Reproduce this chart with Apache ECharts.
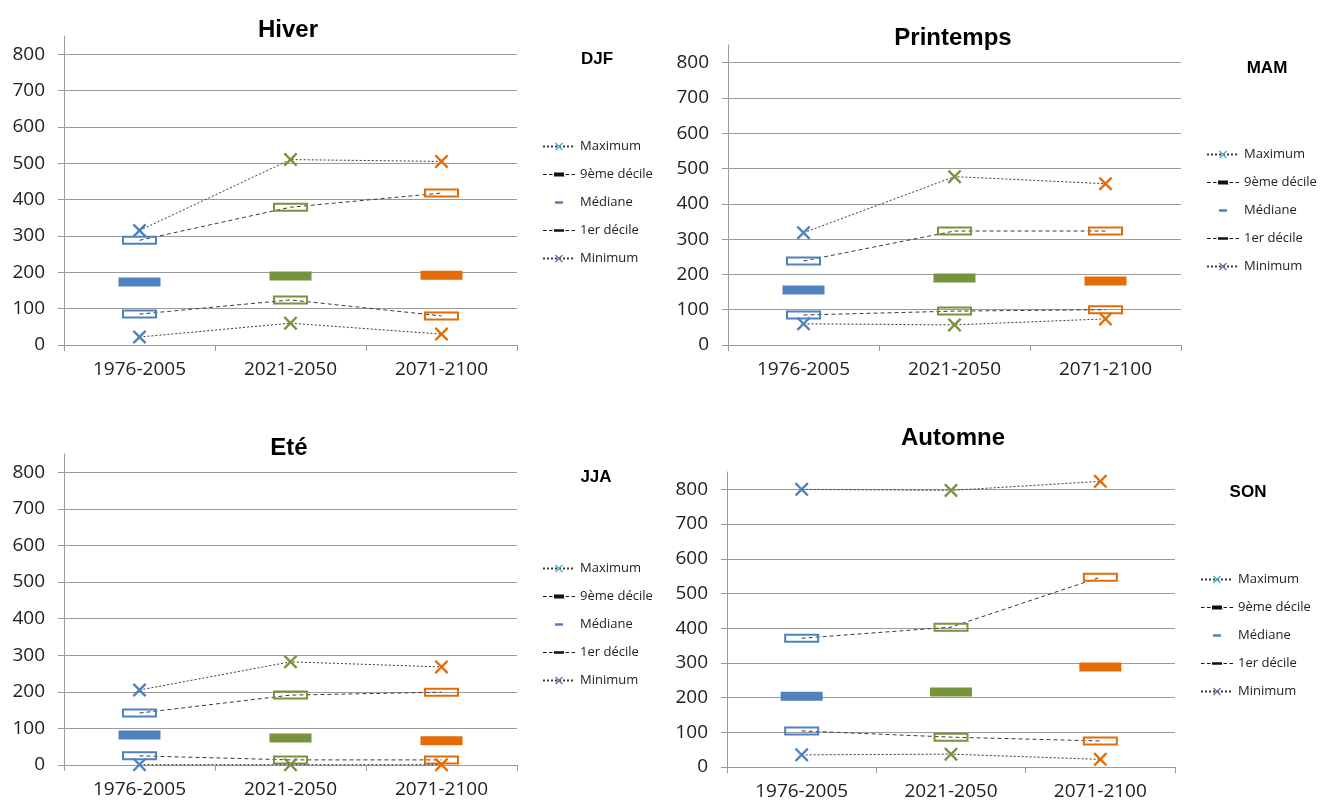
<!DOCTYPE html>
<html>
<head>
<meta charset="utf-8">
<title>Saisons</title>
<script src="https://cdn.jsdelivr.net/npm/echarts@6/dist/echarts.min.js"></script>
<style>
  html, body { margin: 0; padding: 0; background: #fff; }
  #container { width: 1321px; height: 803px; }
</style>
</head>
<body>
<div id="container"></div>
<script>
var dom = document.getElementById("container");
var myChart = echarts.init(dom);

// périodes
var categories = ['1976-2005', '2021-2050', '2071-2100'];
var yTicks = [0, 100, 200, 300, 400, 500, 600, 700, 800];

// Hiver (DJF)
var hiverMax = [315, 510, 505];
var hiverD9 = [288, 379, 418];
var hiverMed = [173, 190, 192];
var hiverD1 = [85, 124, 80];
var hiverMin = [22, 60, 30];

// Printemps (MAM)
var printempsMax = [318, 477, 457];
var printempsD9 = [238, 323, 323];
var printempsMed = [156, 190, 181];
var printempsD1 = [85, 96, 100];
var printempsMin = [60, 57, 74];

// Eté (JJA)
var eteMax = [205, 282, 268];
var eteD9 = [142, 191, 199];
var eteMed = [82, 74, 66];
var eteD1 = [25, 14, 14];
var eteMin = [1, 1, 1];

// Automne (SON)
var automneMax = [800, 797, 823];
var automneD9 = [371, 403, 547];
var automneMed = [204, 216, 288];
var automneD1 = [104, 86, 75];
var automneMin = [35, 37, 22];

var periodColors = ['#4F81BD', '#77933C', '#E36C09'];
var lineColor = '#3a3a3a';
var gridColor = '#9a9a9a';
var font = 'Open Sans';

var crossPath = 'path://M0,1.2L1.2,0L5,3.8L8.8,0L10,1.2L6.2,5L10,8.8L8.8,10L5,6.2L1.2,10L0,8.8L3.8,5Z';
// rectangle creux (trou par sens inverse)
var boxPath = 'path://M0,0h35v9h-35zM2,2v5h31v-5z';
var d9Icon = 'path://M0,0L32,10L0,0ZM0,4.4h3.5v1.2h-3.5zM6,4.4h3.5v1.2h-3.5zM11,3h10v4h-10zM22.5,4.4h3.5v1.2h-3.5zM28.5,4.4h3.5v1.2h-3.5z';
var d1Icon = 'path://M0,0L32,10L0,0ZM0,4.4h3.5v1.2h-3.5zM6,4.4h3.5v1.2h-3.5zM11,3.8h10v2.4h-10zM22.5,4.4h3.5v1.2h-3.5zM28.5,4.4h3.5v1.2h-3.5z';
var medIcon = 'path://M0,0L32,10L0,0ZM12,3.8h8v2.4h-8z';

var panels = [
    { title: 'Hiver', code: 'DJF', max: hiverMax, d9: hiverD9, med: hiverMed, d1: hiverD1, min: hiverMin,
      grid: { left: 64, top: 36, width: 453, height: 309 },
      titlePos: [288, 30], codePos: [597, 59], legendPos: [537, 135] },
    { title: 'Printemps', code: 'MAM', max: printempsMax, d9: printempsD9, med: printempsMed, d1: printempsD1, min: printempsMin,
      grid: { left: 728, top: 45, width: 453, height: 300 },
      titlePos: [953, 38], codePos: [1267, 68], legendPos: [1201, 143] },
    { title: 'Eté', code: 'JJA', max: eteMax, d9: eteD9, med: eteMed, d1: eteD1, min: eteMin,
      grid: { left: 64, top: 454, width: 453, height: 311 },
      titlePos: [289, 448], codePos: [596, 477], legendPos: [537, 557] },
    { title: 'Automne', code: 'SON', max: automneMax, d9: automneD9, med: automneMed, d1: automneD1, min: automneMin,
      grid: { left: 727, top: 472, width: 448, height: 295 },
      titlePos: [953, 438], codePos: [1248, 492], legendPos: [1195, 568] }
];

function coloured(values) {
    return values.map(function (v, i) {
        return { value: v, itemStyle: { color: periodColors[i] } };
    });
}

var grids = [], xAxes = [], yAxes = [], series = [], legends = [], graphics = [];

panels.forEach(function (p, k) {
    grids.push(p.grid);
    xAxes.push({
        type: 'category', gridIndex: k, data: categories, boundaryGap: true,
        axisLine: { lineStyle: { color: gridColor, width: 1 } },
        axisTick: { show: true, length: 6, lineStyle: { color: gridColor } },
        axisLabel: { fontFamily: font, fontSize: 19, color: '#222', margin: 15 }
    });
    yAxes.push({
        type: 'value', gridIndex: k, min: 0, max: 850, interval: 100,
        axisLine: { show: true, lineStyle: { color: gridColor, width: 1 } },
        axisTick: { show: true, length: 6, customValues: yTicks, lineStyle: { color: gridColor } },
        axisLabel: { fontFamily: font, fontSize: 19, color: '#222', margin: 19, customValues: yTicks },
        splitLine: { show: true, lineStyle: { color: gridColor, width: 1 } }
    });

    // maximum
    series.push({
        name: 'Maximum', type: 'line', xAxisIndex: k, yAxisIndex: k, clip: false,
        data: coloured(p.max),
        symbol: crossPath, symbolSize: 14,
        itemStyle: { color: '#4BACC6', opacity: 1 },
        lineStyle: { color: lineColor, width: 1, type: [2, 2] },
        z: 4
    });
    // 9ème décile
    series.push({
        name: '9ème décile', type: 'line', xAxisIndex: k, yAxisIndex: k, clip: false,
        data: coloured(p.d9),
        symbol: boxPath, symbolSize: [35, 9],
        itemStyle: { color: '#000', borderWidth: 0, opacity: 1 },
        lineStyle: { color: lineColor, width: 1, type: [4, 3] },
        z: 3
    });
    // médiane
    series.push({
        name: 'Médiane', type: 'scatter', xAxisIndex: k, yAxisIndex: k, clip: false,
        data: coloured(p.med),
        symbol: 'rect', symbolSize: [42, 9],
        itemStyle: { color: '#4F81BD', opacity: 1 },
        z: 3
    });
    // 1er décile
    series.push({
        name: '1er décile', type: 'line', xAxisIndex: k, yAxisIndex: k, clip: false,
        data: coloured(p.d1),
        symbol: boxPath, symbolSize: [35, 9],
        itemStyle: { color: '#000', borderWidth: 0, opacity: 1 },
        lineStyle: { color: lineColor, width: 1, type: [4, 3] },
        z: 3
    });
    // minimum
    series.push({
        name: 'Minimum', type: 'line', xAxisIndex: k, yAxisIndex: k, clip: false,
        data: coloured(p.min),
        symbol: crossPath, symbolSize: 14,
        itemStyle: { color: '#8064A2', opacity: 1 },
        lineStyle: { color: lineColor, width: 1, type: [2, 2] },
        z: 4
    });

    legends.push({
        orient: 'vertical', left: p.legendPos[0], top: p.legendPos[1],
        itemWidth: 32, itemHeight: 10, itemGap: 15, selectedMode: false,
        textStyle: { fontFamily: font, fontSize: 13, color: '#222' },
        data: [
            { name: 'Maximum' },
            { name: '9ème décile', icon: d9Icon, itemStyle: { color: '#111', borderWidth: 0 } },
            { name: 'Médiane', icon: medIcon, itemStyle: { color: '#4F81BD', borderWidth: 0 } },
            { name: '1er décile', icon: d1Icon, itemStyle: { color: '#111', borderWidth: 0 } },
            { name: 'Minimum' }
        ]
    });

    graphics.push({
        type: 'text', x: p.titlePos[0], y: p.titlePos[1],
        style: { text: p.title, fontFamily: 'Liberation Sans', fontWeight: 'bold', fontSize: 24,
                 fill: '#000', align: 'center', verticalAlign: 'middle' }
    });
    graphics.push({
        type: 'text', x: p.codePos[0], y: p.codePos[1],
        style: { text: p.code, fontFamily: 'Liberation Sans', fontWeight: 'bold', fontSize: 17,
                 fill: '#000', align: 'center', verticalAlign: 'middle' }
    });
});

option = {
    animation: false,
    grid: grids,
    xAxis: xAxes,
    yAxis: yAxes,
    legend: legends,
    graphic: graphics,
    series: series
};
myChart.setOption(option, true);
</script>
</body>
</html>
